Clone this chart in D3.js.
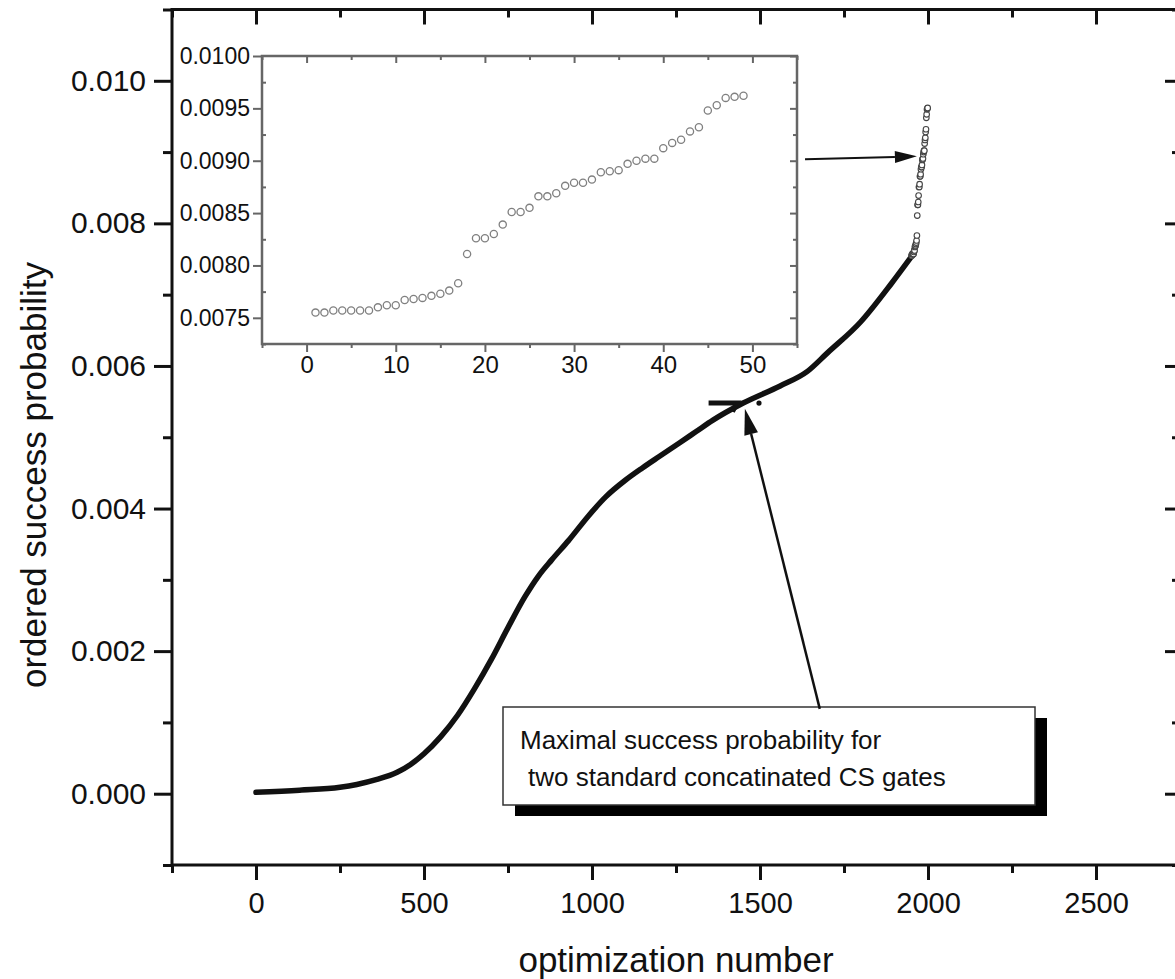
<!DOCTYPE html>
<html>
<head>
<meta charset="utf-8">
<script src="https://cdn.jsdelivr.net/npm/d3@7"></script>
<style>
  body { margin: 0; background: #fff; }
  svg { display: block; font-family: "Liberation Sans", Arial, sans-serif; }
</style>
</head>
<body>
<div id="chart"></div>
<script>
// main curve: ordered success probability
const rankMain = [0, 130, 250, 300, 360, 420, 460, 500, 550, 600, 650, 700, 750, 800, 840, 880,
  930, 990, 1040, 1100, 1150, 1200, 1260, 1310, 1360, 1450, 1560, 1640, 1700, 1800, 1890, 1950];
const probMain = [0.00002, 0.00005, 0.00009, 0.00013, 0.0002, 0.0003, 0.00041, 0.00056, 0.0008,
  0.0011, 0.00147, 0.00188, 0.00233, 0.00276, 0.00305, 0.00328, 0.00355, 0.0039, 0.00416, 0.0044,
  0.00457, 0.00473, 0.00492, 0.00508, 0.00524, 0.00548, 0.00572, 0.00592, 0.00618, 0.00662,
  0.00715, 0.00753];

// the top 49 optimizations (inset)
const topIndex = d3.range(1, 50);
const topProb = [0.00755, 0.00755, 0.00757, 0.00757, 0.00757, 0.00757, 0.00757, 0.00760, 0.00762,
  0.00762, 0.00767, 0.00768, 0.00769, 0.00771, 0.00773, 0.00776, 0.00783, 0.00811, 0.00826,
  0.00826, 0.00830, 0.00839, 0.00851, 0.00851, 0.00855, 0.00866, 0.00866, 0.00869, 0.00876,
  0.00879, 0.00879, 0.00882, 0.00889, 0.00890, 0.00891, 0.00897, 0.00900, 0.00902, 0.00902,
  0.00912, 0.00917, 0.00920, 0.00928, 0.00932, 0.00948, 0.00953, 0.00960, 0.00961, 0.00962];
const topOffset = 1950;

const xTicksMain = [0, 500, 1000, 1500, 2000, 2500];
const yTicksMain = [0, 0.002, 0.004, 0.006, 0.008, 0.010];
const xTicksInset = [0, 10, 20, 30, 40, 50];
const yTicksInset = [0.0075, 0.0080, 0.0085, 0.0090, 0.0095, 0.0100];

// level of the two concatenated standard CS gates
const csLevel = 0.00548;

const width = 1175, height = 979;

const svg = d3.select("#chart").append("svg")
  .attr("width", width).attr("height", height);

const x = d3.scaleLinear().domain([-250, 2750]).range([172, 1180]);
const y = d3.scaleLinear().domain([-0.001, 0.011]).range([865, 9.5]);

function frame(g, xs, ys, color, w) {
  g.append("rect")
    .attr("x", xs.range()[0]).attr("y", ys.range()[1])
    .attr("width", xs.range()[1] - xs.range()[0])
    .attr("height", ys.range()[0] - ys.range()[1])
    .attr("fill", "none").attr("stroke", color).attr("stroke-width", w);
}

function styleAxis(g, color, w, size) {
  g.select(".domain").remove();
  g.selectAll("line").attr("stroke", color).attr("stroke-width", w);
  g.selectAll("text").attr("fill", "#111").style("font-size", size + "px");
}

// ---- main axes
const main = svg.append("g");
const minorX = d3.range(-250, 2751, 250).filter(v => v % 500 !== 0);
const minorY = [-0.001, 0.001, 0.003, 0.005, 0.007, 0.009, 0.011];

main.append("g").attr("transform", `translate(0,${y(-0.001)})`)
  .call(d3.axisBottom(x).tickValues(xTicksMain).tickSize(15).tickPadding(12).tickFormat(d3.format("d")))
  .call(g => styleAxis(g, "#111", 3, 29));
main.append("g").attr("transform", `translate(0,${y(-0.001)})`)
  .call(d3.axisBottom(x).tickValues(minorX).tickSize(8).tickFormat(""))
  .call(g => styleAxis(g, "#111", 3, 29));
main.append("g").attr("transform", `translate(0,${y(0.011)})`)
  .call(d3.axisBottom(x).tickValues(xTicksMain).tickSize(15).tickFormat(""))
  .call(g => styleAxis(g, "#111", 3, 29));
main.append("g").attr("transform", `translate(0,${y(0.011)})`)
  .call(d3.axisBottom(x).tickValues(minorX).tickSize(8).tickFormat(""))
  .call(g => styleAxis(g, "#111", 3, 29));

main.append("g").attr("transform", `translate(${x(-250)},0)`)
  .call(d3.axisLeft(y).tickValues(yTicksMain).tickSize(18).tickPadding(8).tickFormat(d3.format(".3f")))
  .call(g => styleAxis(g, "#111", 3, 30));
main.append("g").attr("transform", `translate(${x(-250)},0)`)
  .call(d3.axisLeft(y).tickValues(minorY).tickSize(9).tickFormat(""))
  .call(g => styleAxis(g, "#111", 3, 30));
main.append("g").attr("transform", `translate(${x(2750)},0)`)
  .call(d3.axisLeft(y).tickValues(yTicksMain).tickSize(15).tickFormat(""))
  .call(g => styleAxis(g, "#111", 3, 30));
main.append("g").attr("transform", `translate(${x(2750)},0)`)
  .call(d3.axisLeft(y).tickValues(minorY).tickSize(8).tickFormat(""))
  .call(g => styleAxis(g, "#111", 3, 30));

frame(main, x, y, "#111", 3);

// axis titles
svg.append("text")
  .attr("x", 676).attr("y", 972)
  .attr("text-anchor", "middle")
  .style("font-size", "35px").attr("fill", "#111")
  .text("optimization number");
svg.append("text")
  .attr("transform", "translate(46,475) rotate(-90)")
  .attr("text-anchor", "middle")
  .style("font-size", "35px").attr("fill", "#111")
  .text("ordered success probability");

// ---- main data
const mainPts = rankMain.map((r, i) => [r, probMain[i]]);
main.append("path")
  .datum(mainPts)
  .attr("fill", "none")
  .attr("stroke", "#111")
  .attr("stroke-width", 5.5)
  .attr("stroke-linecap", "round")
  .attr("d", d3.line().x(d => x(d[0])).y(d => y(d[1])).curve(d3.curveMonotoneX));

main.selectAll(".top")
  .data(topIndex)
  .enter().append("circle")
  .attr("class", "top")
  .attr("cx", d => x(topOffset + d))
  .attr("cy", (d, i) => y(topProb[i]))
  .attr("r", 2.8)
  .attr("fill", "#fff")
  .attr("stroke", "#444")
  .attr("stroke-width", 1.1);

// level marker for the standard CS gates
main.append("path")
  .attr("d", `M${x(1347)},${y(csLevel)}H${x(1432)}L${x(1418)},${y(csLevel - 0.00012)}`)
  .attr("fill", "none")
  .attr("stroke", "#111").attr("stroke-width", 5);
main.append("circle")
  .attr("cx", x(1497)).attr("cy", y(csLevel)).attr("r", 2.6)
  .attr("fill", "#111");

// ---- annotation box
const boxX = 503, boxY = 707, boxW = 532, boxH = 98;
svg.append("rect")
  .attr("x", boxX + 12).attr("y", boxY + 11)
  .attr("width", boxW).attr("height", boxH)
  .attr("fill", "#000");
svg.append("rect")
  .attr("x", boxX).attr("y", boxY)
  .attr("width", boxW).attr("height", boxH)
  .attr("fill", "#fff").attr("stroke", "#333").attr("stroke-width", 1.5);
svg.append("text")
  .attr("x", 520).attr("y", 749)
  .style("font-size", "26px").attr("fill", "#111")
  .text("Maximal success probability for");
svg.append("text")
  .attr("x", 528).attr("y", 786)
  .style("font-size", "26px").attr("fill", "#111")
  .text("two standard concatinated CS gates");

// arrows
function arrow(x1, y1, x2, y2, len, half, w) {
  const ang = Math.atan2(y2 - y1, x2 - x1);
  const bx = x2 - len * Math.cos(ang), by = y2 - len * Math.sin(ang);
  const px = -Math.sin(ang) * half, py = Math.cos(ang) * half;
  svg.append("line")
    .attr("x1", x1).attr("y1", y1).attr("x2", bx).attr("y2", by)
    .attr("stroke", "#111").attr("stroke-width", w);
  svg.append("path")
    .attr("d", `M${x2},${y2}L${bx + px},${by + py}L${bx - px},${by - py}Z`)
    .attr("fill", "#111");
}
arrow(x(1678), y(0.00119), x(1455), y(0.0054), 26, 7, 2.5);
arrow(x(1634), y(0.0089), x(1967), y(0.00894), 22, 6, 2);

// ---- inset
const xi = d3.scaleLinear().domain([-5, 55]).range([262, 797]);
const yi = d3.scaleLinear().domain([0.00725, 0.0100]).range([344, 56]);
const inset = svg.append("g");
inset.append("rect")
  .attr("x", 262).attr("y", 56).attr("width", 535).attr("height", 288)
  .attr("fill", "#fff");

const minorXi = [-5, 5, 15, 25, 35, 45, 55];
const minorYi = [0.00725, 0.00775, 0.00825, 0.00875, 0.00925, 0.00975];
const gray = "#666";

inset.append("g").attr("transform", `translate(0,${yi.range()[0]})`)
  .call(d3.axisBottom(xi).tickValues(xTicksInset).tickSize(8).tickPadding(4).tickFormat(d3.format("d")))
  .call(g => styleAxis(g, gray, 2, 24));
inset.append("g").attr("transform", `translate(0,${yi.range()[0]})`)
  .call(d3.axisBottom(xi).tickValues(minorXi).tickSize(4).tickFormat(""))
  .call(g => styleAxis(g, gray, 2, 24));
inset.append("g").attr("transform", `translate(0,${yi.range()[1]})`)
  .call(d3.axisBottom(xi).tickValues(xTicksInset).tickSize(7).tickFormat(""))
  .call(g => styleAxis(g, gray, 2, 24));
inset.append("g").attr("transform", `translate(0,${yi.range()[1]})`)
  .call(d3.axisBottom(xi).tickValues(minorXi).tickSize(4).tickFormat(""))
  .call(g => styleAxis(g, gray, 2, 24));

inset.append("g").attr("transform", `translate(${xi.range()[0]},0)`)
  .call(d3.axisLeft(yi).tickValues(yTicksInset).tickSize(9).tickPadding(3).tickFormat(d3.format(".4f")))
  .call(g => styleAxis(g, gray, 2, 23));
inset.append("g").attr("transform", `translate(${xi.range()[0]},0)`)
  .call(d3.axisRight(yi).tickValues(minorYi).tickSize(4).tickFormat(""))
  .call(g => styleAxis(g, gray, 2, 23));
inset.append("g").attr("transform", `translate(${xi.range()[1]},0)`)
  .call(d3.axisLeft(yi).tickValues(yTicksInset).tickSize(7).tickFormat(""))
  .call(g => styleAxis(g, gray, 2, 23));
inset.append("g").attr("transform", `translate(${xi.range()[1]},0)`)
  .call(d3.axisLeft(yi).tickValues(minorYi).tickSize(4).tickFormat(""))
  .call(g => styleAxis(g, gray, 2, 23));

frame(inset, xi, yi, gray, 2.5);

inset.selectAll(".pt")
  .data(topIndex)
  .enter().append("circle")
  .attr("class", "pt")
  .attr("cx", d => xi(d))
  .attr("cy", (d, i) => yi(topProb[i]))
  .attr("r", 3.6)
  .attr("fill", "none")
  .attr("stroke", "#808080")
  .attr("stroke-width", 1.3);
</script>
</body>
</html>
